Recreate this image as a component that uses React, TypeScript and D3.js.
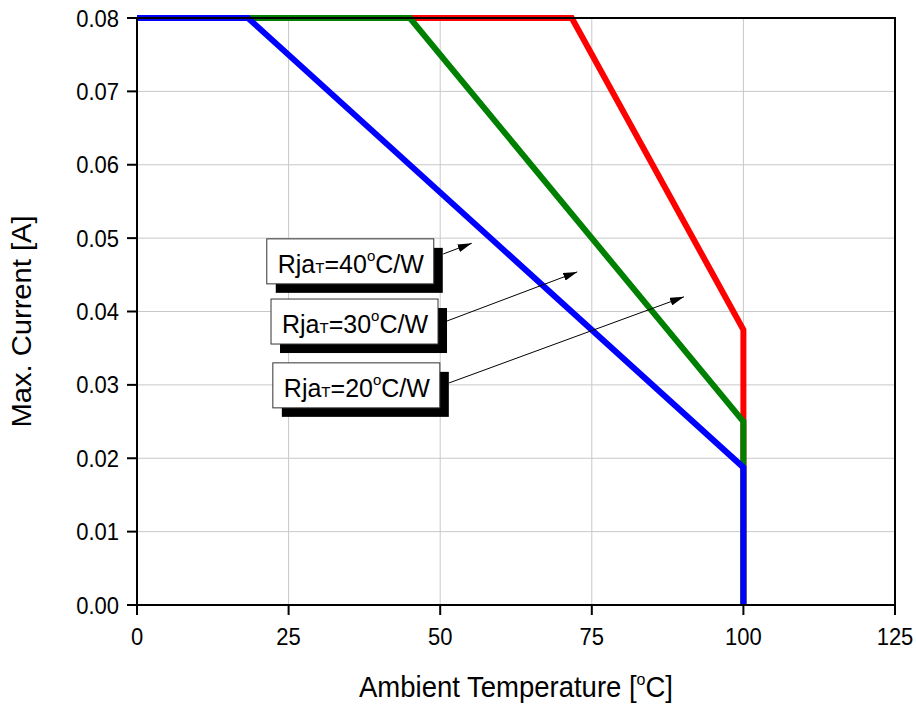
import React from "react";
import * as d3 from "d3";

const xTicks = [0, 25, 50, 75, 100, 125];
const yTicks = [0, 0.01, 0.02, 0.03, 0.04, 0.05, 0.06, 0.07, 0.08];

// Max current vs ambient temperature, one series per thermal resistance
const tempRja20 = [0, 71.7, 100, 100];
const currRja20 = [0.08, 0.08, 0.0375, 0];
const tempRja30 = [0, 45, 100, 100];
const currRja30 = [0.08, 0.08, 0.025, 0];
const tempRja40 = [0, 18.3, 100, 100];
const currRja40 = [0.08, 0.08, 0.01875, 0];

// Annotation labels (data coords): box top-left, arrow start, arrow tip
const labelValues = ["40", "30", "20"];
const labelBoxX = [21.4, 22.1, 22.4];
const labelBoxY = [0.0499, 0.0417, 0.0330];
const arrowFromX = [50.5, 51.1, 51.45];
const arrowFromY = [0.04784, 0.0387, 0.03026];
const arrowToX = [55.2, 72.6, 90.2];
const arrowToY = [0.0493, 0.0454, 0.042];

const W = 916;
const H = 707;
const L = 137, R = 895, T = 18, B = 605;
const FONT = "'Liberation Sans', Arial, sans-serif";

export default function App() {
  const x = d3.scaleLinear().domain([0, 125]).range([L, R]);
  const y = d3.scaleLinear().domain([0, 0.08]).range([B, T]);
  const line = d3
    .line<[number, number]>()
    .x((d) => x(d[0]))
    .y((d) => y(d[1]));

  const series = [
    { t: tempRja20, c: currRja20, color: "#ff0000" },
    { t: tempRja30, c: currRja30, color: "#008000" },
    { t: tempRja40, c: currRja40, color: "#0000ff" },
  ];

  const boxW = 167, boxH = 45, shX = 9, shY = 9;

  return (
    <svg
      width={W}
      height={H}
      style={{ position: "absolute", left: 0, top: 0, background: "#fff" }}
      fontFamily={FONT}
    >
      <defs>
        <marker
          id="ah"
          viewBox="0 0 14 8"
          refX={14}
          refY={4}
          markerWidth={14}
          markerHeight={8}
          markerUnits="userSpaceOnUse"
          orient="auto"
        >
          <path d="M0,0 L14,4 L0,8 Z" fill="#000" />
        </marker>
      </defs>
      <rect width={W} height={H} fill="#fff" />
      {/* grid */}
      {xTicks
        .filter((v) => v > 0 && v < 125)
        .map((v) => (
          <line key={"gx" + v} x1={x(v)} x2={x(v)} y1={T} y2={B} stroke="#c8c8c8" strokeWidth={1} />
        ))}
      {yTicks
        .filter((v) => v > 0 && v < 0.08)
        .map((v) => (
          <line key={"gy" + v} x1={L} x2={R} y1={y(v)} y2={y(v)} stroke="#c8c8c8" strokeWidth={1} />
        ))}
      {/* series */}
      {series.map((s, i) => (
        <path
          key={i}
          d={line(s.t.map((t, j) => [t, s.c[j]] as [number, number])) || ""}
          fill="none"
          stroke={s.color}
          strokeWidth={6}
          strokeLinejoin="miter"
        />
      ))}
      {/* frame */}
      <rect x={L} y={T} width={R - L} height={B - T} fill="none" stroke="#000" strokeWidth={2} />
      {/* ticks */}
      {xTicks.map((v) => (
        <g key={"tx" + v}>
          <line x1={x(v)} x2={x(v)} y1={B} y2={B + 10} stroke="#000" strokeWidth={2} />
          <text
            transform={`translate(${x(v)},${B + 40}) scale(1,1.1)`}
            textAnchor="middle"
            fontSize={22}
            fill="#000"
          >
            {v}
          </text>
        </g>
      ))}
      {yTicks.map((v) => (
        <g key={"ty" + v}>
          <line x1={L - 10} x2={L} y1={y(v)} y2={y(v)} stroke="#000" strokeWidth={2} />
          <text
            transform={`translate(${L - 18},${y(v) + 8.5}) scale(1,1.1)`}
            textAnchor="end"
            fontSize={22}
            fill="#000"
          >
            {v.toFixed(2)}
          </text>
        </g>
      ))}
      {/* axis titles */}
      <text
        transform={`translate(${(L + R) / 2},697) scale(1,1.05)`}
        textAnchor="middle"
        fontSize={27.5}
        fill="#000"
      >
        Ambient Temperature [
        <tspan fontSize={16} dy={-11}>o</tspan>
        <tspan dy={11}>C]</tspan>
      </text>
      <text
        transform={`translate(31,${(T + B) / 2 + 10}) scale(1,1.08) rotate(-90)`}
        textAnchor="middle"
        fontSize={27}
        fill="#000"
      >
        Max. Current [A]
      </text>
      {/* annotations */}
      {labelValues.map((lv, i) => {
        const bx = x(labelBoxX[i]);
        const by = y(labelBoxY[i]);
        return (
          <g key={"lab" + i}>
            <line
              x1={x(arrowFromX[i])}
              y1={y(arrowFromY[i])}
              x2={x(arrowToX[i])}
              y2={y(arrowToY[i])}
              stroke="#000"
              strokeWidth={1}
              markerEnd="url(#ah)"
            />
            <rect x={bx + shX} y={by + shY} width={boxW} height={boxH} fill="#000" />
            <rect x={bx} y={by} width={boxW} height={boxH} fill="#fff" stroke="#333" strokeWidth={1} />
            <text x={bx + 11} y={by + 34} fontSize={25} fill="#000">
              Rja
              <tspan fontSize={15}>T</tspan>
              <tspan>={lv}</tspan>
              <tspan fontSize={15} dy={-12}>o</tspan>
              <tspan dy={12}>C/W</tspan>
            </text>
          </g>
        );
      })}
    </svg>
  );
}
